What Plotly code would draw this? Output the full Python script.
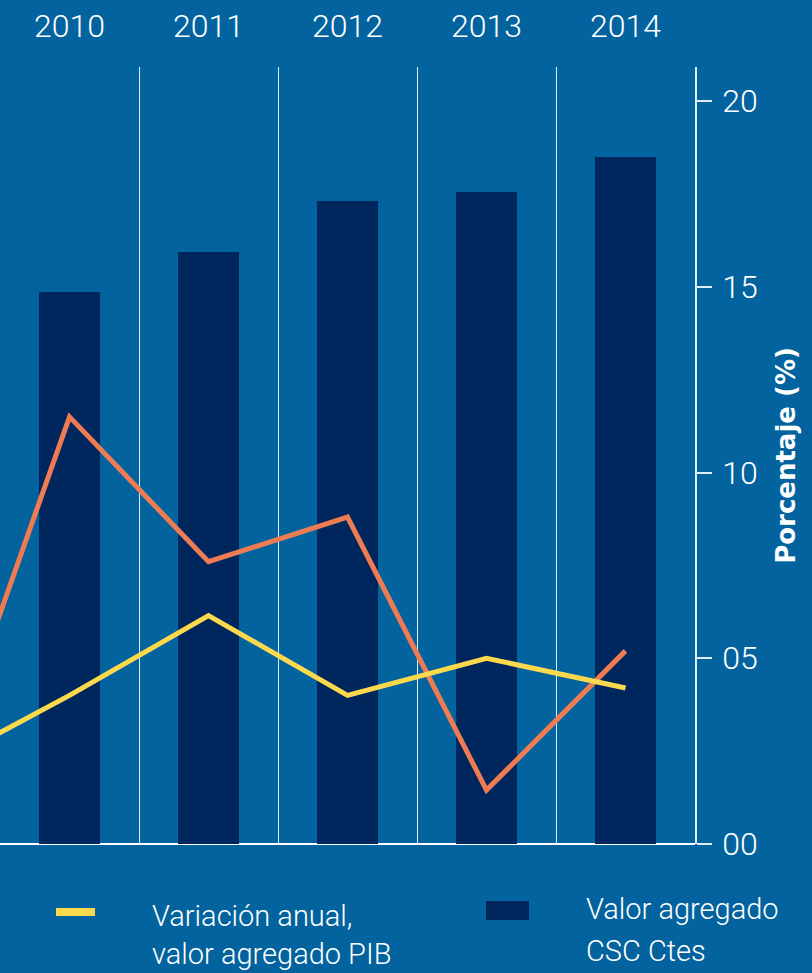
import plotly.graph_objects as go

# ---- data ----
years = [2009, 2010, 2011, 2012, 2013, 2014]
bar_years = [2010, 2011, 2012, 2013, 2014]
valor_agregado_csc = [14.85, 15.95, 17.3, 17.55, 18.5]
variacion_csc = [0.9, 11.5, 7.6, 8.8, 1.45, 5.2]       # orange line
variacion_pib = [2.0, 4.0, 6.15, 4.0, 5.0, 4.2]        # yellow line
y_ticks = [0, 5, 10, 15, 20]
y_ticktext = ["00", "05", "10", "15", "20"]
year_labels = [str(y) for y in bar_years]
legend_pib = ["Variación anual,", "valor agregado PIB"]
legend_csc = ["Valor agregado", "CSC Ctes"]

BG = "#03639E"
NAVY = "#00265E"
ORANGE = "#EF7B52"
YELLOW = "#FCD84C"
LIGHT = "rgba(235,242,250,0.95)"
NUMFONT = "Roboto, sans-serif"
TXTFONT = "Roboto, Lato, sans-serif"

W, H = 812, 973
M_L, M_R, M_T, M_B = 0, 117, 67, 129
PW = W - M_L - M_R
PH = H - M_T - M_B


def px_x(px):
    return (px - M_L) / PW


def px_y(py):
    return (H - M_B - py) / PH


fig = go.Figure()
fig.add_trace(go.Bar(x=bar_years, y=valor_agregado_csc, width=0.445,
                     marker=dict(color=NAVY, line=dict(width=0)),
                     name=" ".join(legend_csc), showlegend=False))
fig.add_trace(go.Scatter(x=years, y=variacion_csc, mode="lines",
                         line=dict(color=ORANGE, width=5), showlegend=False))
fig.add_trace(go.Scatter(x=years, y=variacion_pib, mode="lines",
                         line=dict(color=YELLOW, width=5), showlegend=False,
                         name=" ".join(legend_pib)))

bounds = [y - 0.5 for y in bar_years] + [bar_years[-1] + 0.5]

fig.update_layout(
    width=W, height=H,
    paper_bgcolor=BG, plot_bgcolor=BG,
    margin=dict(l=M_L, r=M_R, t=M_T, b=M_B, pad=0),
    bargap=0,
    xaxis=dict(
        range=[bounds[0], bounds[-1]], side="top",
        tickvals=bar_years, ticktext=year_labels,
        tickfont=dict(family=NUMFONT, size=32, color="white", weight=300),
        ticks="", showgrid=False, zeroline=False, showline=False,
        ticklabelstandoff=23,
        minor=dict(tickvals=bounds[:-1], showgrid=True, gridcolor=LIGHT, gridwidth=1.2),
        fixedrange=True,
    ),
    yaxis=dict(
        range=[0, 20.92], side="right",
        tickvals=y_ticks, ticktext=y_ticktext,
        tickfont=dict(family=NUMFONT, size=32, color="white", weight=300),
        ticks="outside", ticklen=15, tickcolor=LIGHT, tickwidth=1.5,
        showline=True, linecolor=LIGHT, linewidth=1.5,
        showgrid=False, zeroline=True, zerolinecolor="white", zerolinewidth=2,
        ticklabelstandoff=4,
        title=dict(text="Porcentaje (%)", standoff=20,
                   font=dict(family="DejaVu Sans, sans-serif", size=26, color="white", weight="bold")),
    ),
    showlegend=False,
)

# custom legend (sizes/positions are styling only)
fig.add_shape(type="line", xref="paper", yref="paper",
              x0=px_x(56), x1=px_x(95), y0=px_y(912), y1=px_y(912),
              line=dict(color=YELLOW, width=8))
fig.add_shape(type="rect", xref="paper", yref="paper",
              x0=px_x(486), x1=px_x(529), y0=px_y(901), y1=px_y(920),
              fillcolor=NAVY, line=dict(width=0))

for txt, x, y in [(legend_pib[0], 150, 916), (legend_pib[1], 150, 954),
                  (legend_csc[0], 584, 909), (legend_csc[1], 584, 951)]:
    fig.add_annotation(text=txt, xref="paper", yref="paper",
                       x=px_x(x), y=px_y(y), xanchor="left", yanchor="middle",
                       showarrow=False, align="left",
                       font=dict(family=TXTFONT, size=29, color="white", weight=300))

fig.write_html("out.html", config={"displayModeBar": False},
               post_script="document.body.style.margin='0px';")
